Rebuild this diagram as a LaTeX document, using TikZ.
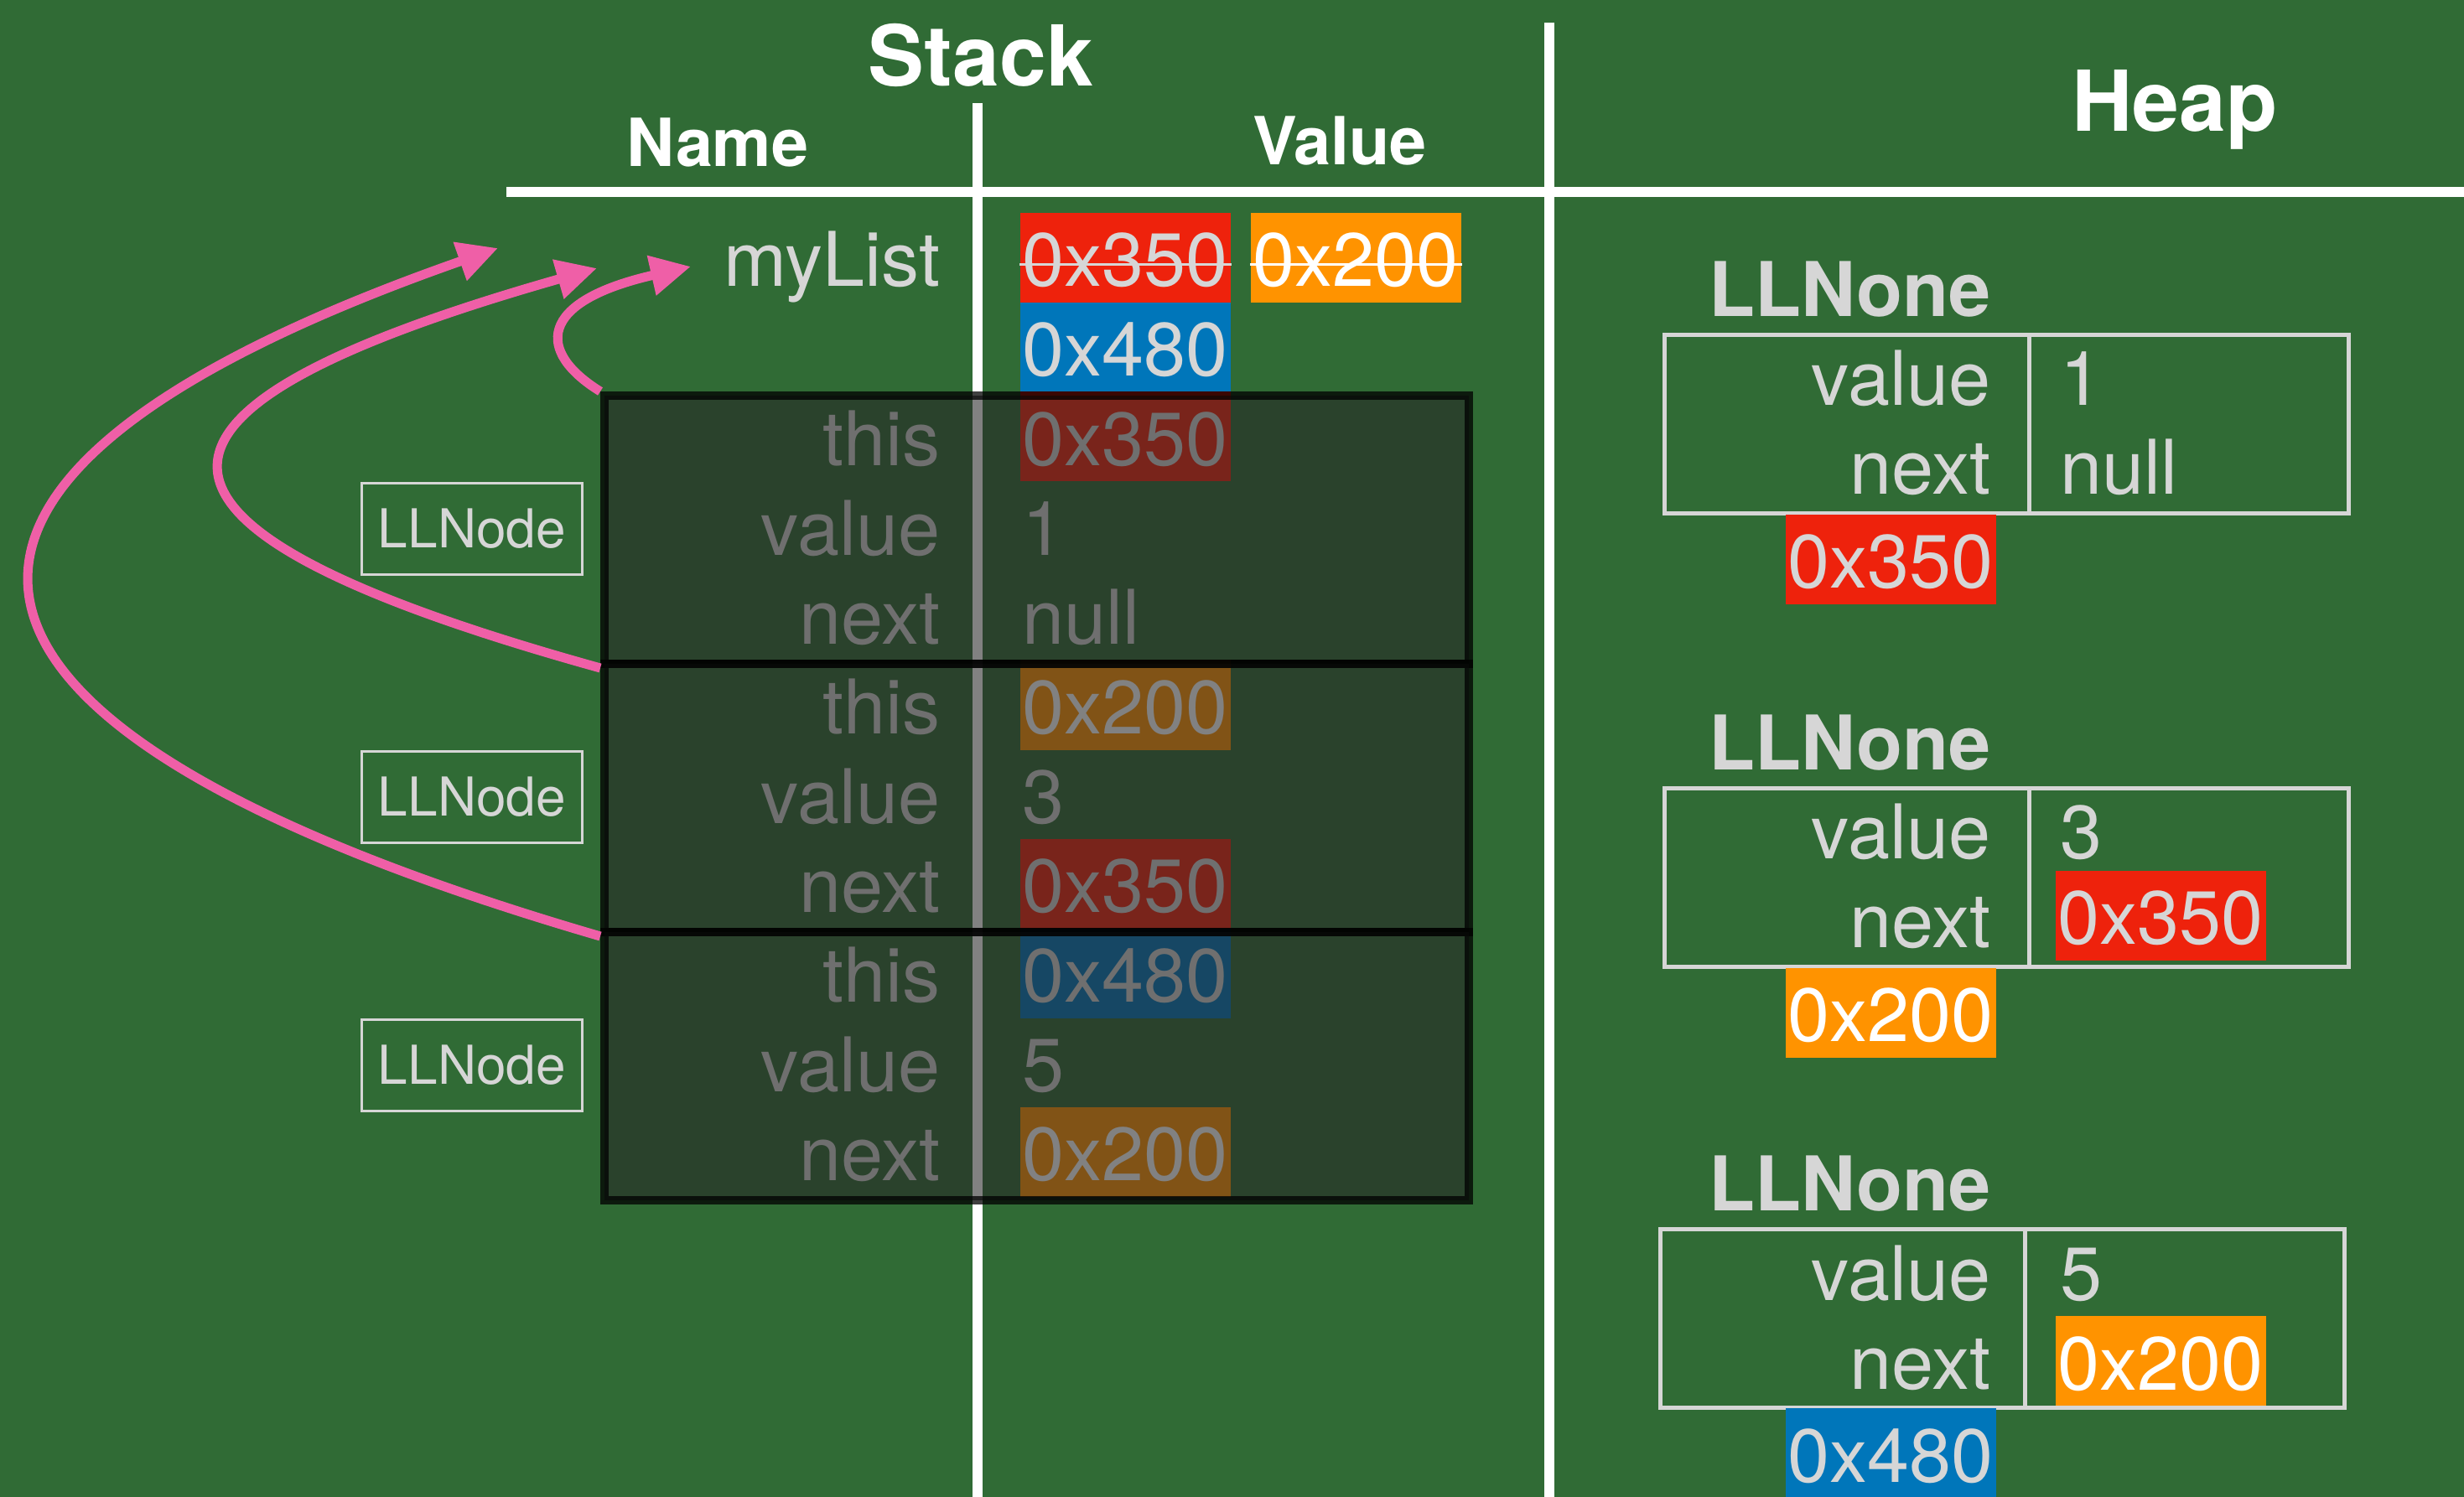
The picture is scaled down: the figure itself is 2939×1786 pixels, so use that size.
\documentclass[tikz,border=0pt]{standalone}
\usepackage{fontspec}
\setmainfont{TeX Gyre Heros}
\usetikzlibrary{arrows.meta}
\definecolor{board}{HTML}{306B35}
\definecolor{lgray}{HTML}{D6D6D6}
\definecolor{memred}{HTML}{EE220C}
\definecolor{memorange}{HTML}{FF9300}
\definecolor{memblue}{HTML}{0076BA}
\definecolor{ptrpink}{HTML}{EF5FA7}

\begin{document}
\begin{tikzpicture}[x=0.01cm, y=-0.01cm,
    every node/.style={text=lgray, font=\fontsize{25.6}{30}\selectfont},
    slot/.style={anchor=base east, inner sep=0pt},
    val/.style={anchor=base west, inner sep=0pt},
    addr/.style={anchor=base west, inner xsep=0.03cm, inner ysep=0pt,
      text height=0.88cm, text depth=0.19cm},
    a350/.style={addr, fill=memred},
    a200/.style={addr, fill=memorange, text=white},
    a480/.style={addr, fill=memblue},
    strike/.style={line width=0.035cm},
    rule/.style={white, line width=0.12cm},
    head/.style={anchor=base, text=white, font=\bfseries\fontsize{28.5}{34}\selectfont},
    subhead/.style={anchor=base, text=white, font=\bfseries\fontsize{22.5}{27}\selectfont},
    frame/.style={anchor=north west, draw=black, draw opacity=0.75, line width=0.1cm,
      fill=black!85, fill opacity=0.58, minimum width=10.3cm, minimum height=3.2cm},
    typebox/.style={draw=lgray, line width=0.03cm, minimum width=2.62cm,
      minimum height=1.08cm, font=\fontsize{18.2}{22}\selectfont},
    ptr/.style={ptrpink, line width=0.11cm, -{Triangle[length=0.48cm, width=0.46cm]}},
    objbox/.style={anchor=north west, draw=lgray, line width=0.05cm,
      minimum width=8.15cm, minimum height=2.13cm},
    objtitle/.style={anchor=base east, inner sep=0pt,
      font=\bfseries\fontsize{25.6}{30}\selectfont}]

      \useasboundingbox (0,0) rectangle (2939,1786);
      \fill[board] (0,0) rectangle (2939,1786);

      \node[head] (stack) at (1170,103) {Stack};
      \node[subhead] (name) at (856,199) {Name};
      \node[subhead] (value) at (1598,197) {Value};
      \node[head] (heap) at (2594,157) {Heap};

      \draw[rule] (604,229) -- (2939,229);
      \draw[rule] (1166,123) -- (1166,1786);
      \draw[rule] (1848,27) -- (1848,1786);

      \foreach \lbl/\r in {myList/1, this/3, value/4, next/5, this/6, value/7,
        next/8, this/9, value/10, next/11}
        \node[slot] (n\r) at (1122, {342+106.7*(\r-1)}) {\lbl};

      \foreach \hv/\r in {1/4, null/5, 3/7, 5/10}
        \node[val] (v\r) at (1219, {342+106.7*(\r-1)}) {\hv};

      \foreach \a/\r in {350/1, 480/2, 350/3, 200/6, 350/8, 480/9, 200/11}
        \node[a\a] (v\r) at (1216, {342+106.7*(\r-1)}) {0x\a};
      \node[a200] (old) at (1491,342) {0x200};

      \draw[strike, lgray] ([yshift=-0.08cm]v1.west) -- ([yshift=-0.08cm]v1.east);
      \draw[strike, white] ([yshift=-0.08cm]old.west) -- ([yshift=-0.08cm]old.east);

      \foreach \i in {1,2,3}
        \node[frame] (f\i) at (716, {467+320*(\i-1)}) {};

      \foreach \i in {1,2,3}
        \node[typebox] (t\i) at (563, {631+320*(\i-1)}) {LLNode};

      \coordinate (p1) at (824,318);
      \coordinate (p2) at (712,320);
      \coordinate (p3) at (594,296);

      \draw[ptr] (f1.north west) .. controls (640,420) and (640,360) .. (p1);
      \draw[ptr] ([yshift=-0.1cm]f2.north west) .. controls (115,630) and (115,490) .. (p2);
      \draw[ptr] ([yshift=-0.1cm]f3.north west) .. controls (-165,860) and (-165,562) .. (p3);

      \foreach \k/\x/\ty/\hv in {1/1983/397/1, 2/1983/938/3, 3/1978/1464/5} {
        \node[objtitle] (ht\k) at (2375, {\ty-19}) {LLNone};
        \node[objbox] (h\k) at (\x, \ty) {};
        \draw[lgray, line width=0.05cm] ([xshift=4.37cm]h\k.north west)
          -- ([xshift=4.37cm]h\k.south west);
        \node[slot] (hv\k) at (2375, {\ty+87}) {value};
        \node[slot] (hx\k) at (2375, {\ty+193}) {next};
        \node[val] (hvv\k) at (2457, {\ty+87}) {\hv};
      }

      \node[val] (hn1) at (2457,590) {null};
      \node[a350] (hn2) at (2451,1127) {0x350};
      \node[a200] (hn3) at (2451,1658) {0x200};

      \node[a350] (ha1) at (2129,702) {0x350};
      \node[a200] (ha2) at (2129,1243) {0x200};
      \node[a480] (ha3) at (2129,1768) {0x480};
  \end{tikzpicture}
\end{document}
